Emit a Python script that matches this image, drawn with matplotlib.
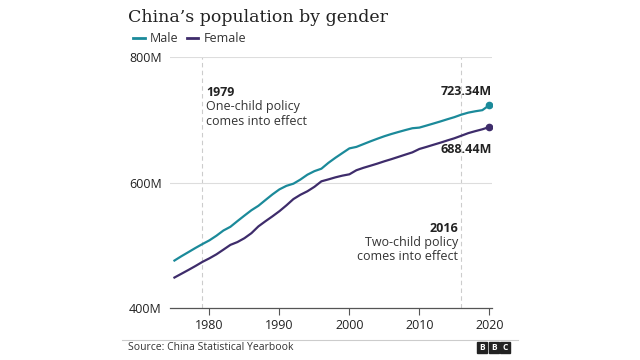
import matplotlib.pyplot as plt
from matplotlib.patches import Rectangle

# China Statistical Yearbook, population by gender (millions)
years = list(range(1975, 2021))
male = [475.64, 482.57, 489.08, 495.67, 501.92, 507.85, 515.19, 523.52, 529.45, 538.48,
        547.25, 555.81, 562.90, 572.01, 580.99, 589.04, 594.66, 598.11, 604.72, 612.46,
        618.08, 622.00, 631.31, 639.40, 646.92, 654.37, 656.72, 661.15, 665.56, 669.76,
        673.75, 677.28, 680.48, 683.57, 686.47, 687.48, 690.68, 693.95, 697.28, 700.79,
        704.14, 708.15, 711.37, 713.51, 715.27, 723.34]
female = [448.56, 454.60, 460.66, 466.92, 473.50, 479.20, 485.53, 493.02, 500.63, 505.09,
          511.26, 519.26, 530.10, 538.25, 546.05, 554.29, 563.57, 573.60, 580.45, 586.04,
          593.13, 601.89, 604.95, 608.21, 610.94, 613.06, 619.55, 623.38, 626.71, 630.12,
          633.81, 637.20, 640.81, 644.45, 648.03, 653.43, 656.67, 660.09, 663.44, 667.03,
          670.48, 674.56, 678.71, 681.87, 684.78, 688.44]
yticks = [400, 600, 800]
xticks = [1980, 1990, 2000, 2010, 2020]
policy_years = [1979, 2016]

MALE_C = "#1b8a9a"
FEMALE_C = "#3e2c6b"
TXT = "#222222"

plt.rcParams['font.family'] = ['Open Sans', 'DejaVu Sans']

fig = plt.figure(figsize=(6.4, 3.6), dpi=100)
ax = fig.add_axes([0.266, 0.1444, 0.503, 0.6973])

for py in policy_years:
    ax.axvline(py, color="#cccccc", lw=0.8, ls=(0, (4, 3)), zorder=1)

for yv in yticks[1:]:
    ax.axhline(yv, color="#dddddd", lw=0.8, zorder=1)

ax.plot(years, male, color=MALE_C, lw=1.6, zorder=3)
ax.plot(years, female, color=FEMALE_C, lw=1.6, zorder=3)
ax.plot(years[-1], male[-1], 'o', color=MALE_C, ms=4.5, zorder=4)
ax.plot(years[-1], female[-1], 'o', color=FEMALE_C, ms=4.5, zorder=4)

ax.set_xlim(1974.4, 2020.4)
ax.set_ylim(400, 800)
ax.set_xticks(xticks)
ax.set_xticklabels([str(x) for x in xticks], fontsize=9, color=TXT)
ax.set_yticks(yticks)
ax.set_yticklabels([f"{y}M" for y in yticks], fontsize=9, color=TXT)
ax.tick_params(axis='y', length=0, pad=6)
ax.tick_params(axis='x', length=5, width=0.8, color="#555555", pad=3)
for s in ['top', 'right', 'left']:
    ax.spines[s].set_visible(False)
ax.spines['bottom'].set_color("#555555")
ax.spines['bottom'].set_linewidth(0.9)

# annotations
ax.text(1979.5, 743, "1979", fontsize=9, fontweight='bold', color=TXT, va='center')
ax.text(1979.5, 721, "One-child policy", fontsize=9, color="#333333", va='center')
ax.text(1979.5, 698, "comes into effect", fontsize=9, color="#333333", va='center')
ax.text(2015.5, 527, "2016", fontsize=9, fontweight='bold', color=TXT, va='center', ha='right')
ax.text(2015.5, 505, "Two-child policy", fontsize=9, color="#333333", va='center', ha='right')
ax.text(2015.5, 482, "comes into effect", fontsize=9, color="#333333", va='center', ha='right')
ax.text(2020.3, male[-1] + 21, f"{male[-1]:.2f}M", fontsize=9, fontweight='bold', color=TXT,
        va='center', ha='right')
ax.text(2020.3, female[-1] - 36, f"{female[-1]:.2f}M", fontsize=9, fontweight='bold', color=TXT,
        va='center', ha='right')

# title and legend
fig.text(0.2, 0.95, "China\u2019s population by gender", fontsize=12.5, family='DejaVu Serif',
         color=TXT, va='center')
fig.add_artist(plt.Line2D([0.208, 0.226], [0.894, 0.894], color=MALE_C, lw=2))
fig.text(0.234, 0.894, "Male", fontsize=9, color="#333333", va='center')
fig.add_artist(plt.Line2D([0.292, 0.31], [0.894, 0.894], color=FEMALE_C, lw=2))
fig.text(0.318, 0.894, "Female", fontsize=9, color="#333333", va='center')

# footer
fig.add_artist(plt.Line2D([0.19, 0.81], [0.056, 0.056], color="#cccccc", lw=0.8))
fig.text(0.2, 0.035, "Source: China Statistical Yearbook", fontsize=7.5, color="#333333", va='center')
for i, ch in enumerate("BBC"):
    x0 = 0.746 + i * 0.0175
    fig.add_artist(Rectangle((x0, 0.02), 0.0155, 0.03, color="#222222", transform=fig.transFigure))
    fig.text(x0 + 0.00775, 0.035, ch, fontsize=6, fontweight='bold', color="white",
             ha='center', va='center')

fig.savefig("out.png", dpi=100, facecolor="white")
